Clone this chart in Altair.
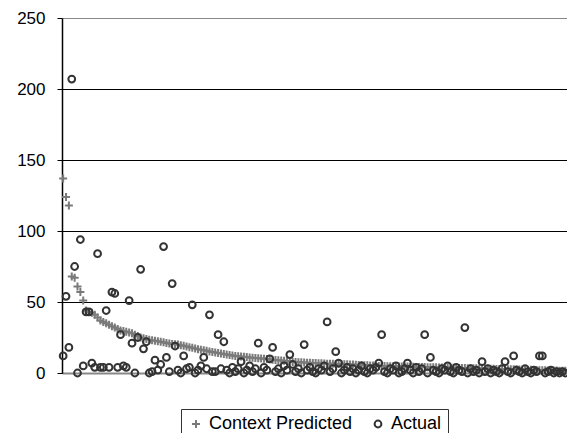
import altair as alt
import pandas as pd

predicted = [
    137, 124, 118, 68, 67, 61, 57, 51, 44, 43,
    42.5, 41, 39, 37, 36, 35, 34, 33, 32, 31,
    30, 29.5, 29, 28.5, 28, 27, 26, 25, 24.5, 24,
    23.5, 23, 22.7, 22.4, 22, 21.6, 21.2, 20.8, 20.5, 20.2,
    20, 19.6, 19.2, 18.7, 18.2, 17.7, 17.2, 16.8, 16.4, 16,
    15.6, 15.2, 14.8, 14.4, 14, 13.7, 13.4, 13, 12.7, 12.4,
    12, 11.8, 11.6, 11.4, 11.2, 11, 10.8, 10.6, 10.4, 10.2,
    10, 9.8, 9.6, 9.4, 9.2, 9, 8.8, 8.6, 8.4, 8.1,
    7.8, 7.7, 7.6, 7.5, 7.4, 7.3, 7.2, 7.1, 7, 6.9,
    6.8, 6.7, 6.6, 6.6, 6.5, 6.4, 6.4, 6.3, 6.2, 6.1,
    6, 5.9, 5.8, 5.7, 5.6, 5.5, 5.4, 5.3, 5.2, 5.1,
    5, 4.9, 4.9, 4.8, 4.8, 4.7, 4.7, 4.6, 4.6, 4.5,
    4.5, 4.4, 4.4, 4.3, 4.3, 4.2, 4.2, 4.1, 4.1, 4,
    4, 3.9, 3.9, 3.8, 3.8, 3.7, 3.7, 3.6, 3.6, 3.5,
    3.5, 3.4, 3.4, 3.3, 3.3, 3.2, 3.2, 3.1, 3.1, 3,
    3, 2.9, 2.9, 2.8, 2.8, 2.7, 2.7, 2.6, 2.6, 2.5,
    2.5, 2.4, 2.3, 2.3, 2.2, 2.1, 2, 2, 1.9, 1.8,
    1.8, 1.7, 1.7, 1.6, 1.5, 1.5,
]

actual = [
    12, 54, 18, 207, 75, 0, 94, 5, 43, 43,
    7, 4, 84, 4, 4, 44, 4, 57, 56, 4,
    27, 5, 4, 51, 21, 0, 25, 73, 17, 22,
    0, 1, 9, 2, 6, 89, 11, 1, 63, 19,
    2, 0, 12, 3, 4, 48, 0, 2, 5, 11,
    3, 41, 1, 1, 27, 3, 22, 2, 0, 4,
    1, 3, 8, 0, 2, 5, 1, 3, 21, 0,
    4, 2, 10, 18, 1, 3, 0, 5, 2, 13,
    6, 1, 3, 0, 20, 2, 4, 1, 0, 3,
    2, 5, 36, 1, 3, 15, 7, 0, 2, 4,
    1, 3, 0, 2, 5, 1, 0, 3, 2, 4,
    7, 27, 1, 0, 3, 2, 5, 0, 1, 3,
    7, 2, 0, 4, 1, 3, 27, 0, 11, 2,
    1, 0, 3, 2, 5, 1, 0, 4, 2, 1,
    32, 0, 3, 1, 2, 0, 8, 1, 3, 0,
    2, 1, 0, 3, 8, 1, 0, 12, 2, 1,
    0, 3, 1, 0, 2, 1, 12, 12, 0, 1,
    2, 0, 1, 0, 1, 0,
]

series_names = ["Context Predicted", "Actual"]
y_ticks = [0, 50, 100, 150, 200, 250]

n = len(predicted)
rows = []
for i, v in enumerate(predicted):
    rows.append({"idx": i, "value": v, "series": series_names[0]})
for i, v in enumerate(actual):
    rows.append({"idx": i, "value": v, "series": series_names[1]})
df = pd.DataFrame(rows)

plus_path = "M-1,0H1M0,-1V1"

legend_opts = dict(
    title=None,
    orient="none",
    legendX=119,
    legendY=391,
    direction="horizontal",
    strokeColor="#333333",
    padding=6,
    labelFontSize=18,
    labelFont="Liberation Sans",
    labelColor="#000000",
    symbolSize=40,
    symbolStrokeWidth=2,
    columnPadding=16,
    labelOffset=4,
)

chart = (
    alt.Chart(df)
    .mark_point(filled=False, strokeWidth=2, opacity=1)
    .encode(
        x=alt.X(
            "idx:Q",
            scale=alt.Scale(domain=[-0.4, n - 0.4], nice=False, zero=False),
            axis=alt.Axis(
                title=None, labels=False, ticks=False, grid=False,
                domainColor="#888888", domainWidth=2,
            ),
        ),
        y=alt.Y(
            "value:Q",
            scale=alt.Scale(domain=[0, 250], nice=False),
            axis=alt.Axis(
                title=None,
                values=y_ticks,
                grid=True,
                gridColor={
                    "condition": {"test": "datum.value === 250", "value": "#888888"},
                    "value": "#000000",
                },
                gridWidth=1,
                domainColor="#000000",
                domainWidth=1.5,
                tickColor="#000000",
                tickSize=5,
                labelFontSize=17,
                labelFont="Liberation Sans",
                labelColor="#000000",
                labelPadding=12,
            ),
        ),
        shape=alt.Shape(
            "series:N",
            scale=alt.Scale(domain=series_names, range=[plus_path, "circle"]),
            legend=alt.Legend(**legend_opts),
        ),
        color=alt.Color(
            "series:N",
            scale=alt.Scale(domain=series_names, range=["#7a7a7a", "#333333"]),
            legend=alt.Legend(**legend_opts),
        ),
        size=alt.Size(
            "series:N",
            scale=alt.Scale(domain=series_names, range=[64, 46]),
            legend=None,
        ),
    )
    .properties(
        width=505,
        height=355,
        padding={"left": 54, "top": 10, "right": 0, "bottom": 60},
        autosize=alt.AutoSizeParams(type="none"),
    )
    .configure_view(stroke=None)
    .configure(background="white")
)

chart.save("out.html", embed_options={"renderer": "svg", "actions": False})
